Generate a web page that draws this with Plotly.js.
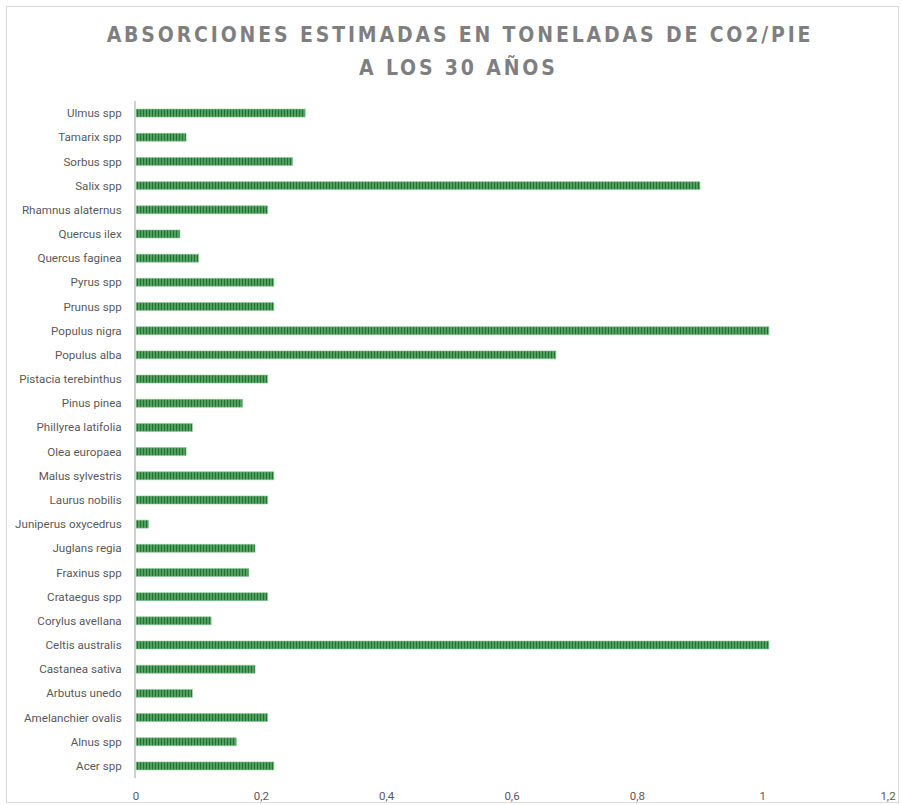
<!DOCTYPE html>
<html>
<head>
<meta charset="utf-8">
<script src="https://cdn.plot.ly/plotly-3.0.1.min.js"></script>
<style>
  html, body { margin: 0; padding: 0; background: #ffffff; }
  #chart { position: absolute; left: 0; top: 0; width: 902px; height: 805px; }
  #frame { position: absolute; left: 6px; top: 6px; width: 893px; height: 797px; border: 1px solid #d9d9d9; pointer-events: none; box-sizing: border-box; }
  .gtitle, .annotation-text { letter-spacing: 2.85px; }
</style>
</head>
<body>
<div id="chart"></div>
<div id="frame"></div>
<script>
const species = [
  "Acer spp", "Alnus spp", "Amelanchier ovalis", "Arbutus unedo", "Castanea sativa",
  "Celtis australis", "Corylus avellana", "Crataegus spp", "Fraxinus spp", "Juglans regia",
  "Juniperus oxycedrus", "Laurus nobilis", "Malus sylvestris", "Olea europaea",
  "Phillyrea latifolia", "Pinus pinea", "Pistacia terebinthus", "Populus alba",
  "Populus nigra", "Prunus spp", "Pyrus spp", "Quercus faginea", "Quercus ilex",
  "Rhamnus alaternus", "Salix spp", "Sorbus spp", "Tamarix spp", "Ulmus spp"
];
const absorcion = [
  0.22, 0.16, 0.21, 0.09, 0.19,
  1.01, 0.12, 0.21, 0.18, 0.19,
  0.02, 0.21, 0.22, 0.08,
  0.09, 0.17, 0.21, 0.67,
  1.01, 0.22, 0.22, 0.10, 0.07,
  0.21, 0.90, 0.25, 0.08, 0.27
];
const xTicks = [0, 0.2, 0.4, 0.6, 0.8, 1, 1.2];
const titleLines = ["ABSORCIONES ESTIMADAS EN TONELADAS DE CO2/PIE", "A LOS 30 AÑOS"];

const TITLE_FONT = "'DejaVu Sans Condensed', 'Liberation Sans Narrow', 'Arial Narrow', sans-serif";
const LABEL_FONT = "Roboto, 'Liberation Sans', Arial, sans-serif";

const titleFont = { family: TITLE_FONT, size: 21, color: "#7f7f7f", weight: "bold" };

const trace = {
  type: "bar",
  orientation: "h",
  y: species,
  x: absorcion,
  marker: {
    color: "#4a9c5a",
    line: { color: "#8cc697", width: 0.6 },
    pattern: { shape: "|", fgcolor: "#23712f", bgcolor: "#52a061", fgopacity: 1, size: 3, solidity: 0.35 }
  },
  hoverinfo: "x+y"
};

const layout = {
  width: 902,
  height: 805,
  margin: { l: 136, r: 14, t: 101, b: 27, pad: 0 },
  paper_bgcolor: "rgba(0,0,0,0)",
  plot_bgcolor: "rgba(0,0,0,0)",
  separators: ", ",
  showlegend: false,
  bargap: 0.67,
  title: {
    text: titleLines[0],
    x: 460 / 902,
    xanchor: "center",
    yref: "container",
    y: 1 - 35 / 805,
    yanchor: "middle",
    font: titleFont
  },
  annotations: [{
    text: titleLines[1],
    xref: "paper",
    yref: "paper",
    x: (458 - 136) / 752,
    y: (778 - 68) / 677,
    xanchor: "center",
    yanchor: "middle",
    showarrow: false,
    font: titleFont
  }],
  xaxis: {
    range: [0, 1.2],
    tickvals: xTicks,
    showgrid: false,
    zeroline: false,
    showline: false,
    ticks: "",
    ticklabelstandoff: 9,
    tickfont: { family: LABEL_FONT, size: 11.5, color: "#595959" },
    fixedrange: true
  },
  yaxis: {
    type: "category",
    showgrid: false,
    zeroline: false,
    showline: true,
    linecolor: "#d0d0d0",
    linewidth: 2,
    ticks: "",
    ticklabelstandoff: 10,
    tickfont: { family: LABEL_FONT, size: 11.6, color: "#595959" },
    fixedrange: true
  }
};

Plotly.newPlot("chart", [trace], layout, { displayModeBar: false });
</script>
</body>
</html>
